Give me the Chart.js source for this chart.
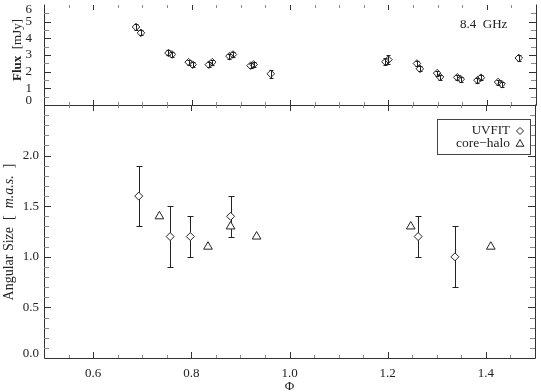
<!DOCTYPE html>
<html lang="en">
  <head>
    <meta charset="UTF-8" />
    <title>Flux e tamanho angular</title>
    <script src="https://cdn.jsdelivr.net/npm/chart.js"></script>
    <style>
      body { margin: 0; background: #fff; }
      .painel { position: relative; width: 541px; height: 392px; }
      .painel canvas { position: absolute; left: 0; top: 0; }
    </style>
  </head>
  <body>
    <div class="painel">
      <canvas id="fluxChart" width="541" height="392"></canvas>
      <canvas id="sizeChart" width="541" height="392"></canvas>
    </div>

<script>
  // painel de cima: fluxo a 8.4 GHz
  const fluxPhi = [0.687, 0.697, 0.753, 0.760, 0.794, 0.802, 0.835, 0.842, 0.877, 0.884, 0.920, 0.926, 0.961,
                   1.194, 1.200, 1.258, 1.264, 1.299, 1.305, 1.340, 1.347, 1.381, 1.388, 1.423, 1.430, 1.465];
  const fluxVal = [4.68, 4.33, 3.12, 3.03, 2.57, 2.42, 2.42, 2.57, 2.93, 3.03, 2.36, 2.43, 1.87,
                   2.59, 2.72, 2.49, 2.17, 1.91, 1.68, 1.66, 1.55, 1.49, 1.64, 1.38, 1.26, 2.82];
  const fluxErr = [0.15, 0.15, 0.15, 0.15, 0.15, 0.15, 0.15, 0.15, 0.15, 0.15, 0.15, 0.15, 0.25,
                   0.2, 0.25, 0.15, 0.15, 0.15, 0.15, 0.15, 0.15, 0.15, 0.15, 0.15, 0.15, 0.2];

  // painel de baixo: tamanho angular
  const uvfitPhi = [0.693, 0.757, 0.798, 0.880, 1.262, 1.337];
  const uvfitSize = [1.6, 1.2, 1.2, 1.4, 1.2, 1.0];
  const uvfitErr = [0.3, 0.3, 0.2, 0.2, 0.2, 0.3];

  const haloPhi = [0.735, 0.834, 0.880, 0.933, 1.247, 1.410];
  const haloSize = [1.4, 1.1, 1.3, 1.2, 1.3, 1.1];

  const phiTicks = [0.6, 0.8, 1.0, 1.2, 1.4];
  const fluxTicks = [0, 1, 2, 3, 4, 5, 6];
  const sizeTicks = [0.0, 0.5, 1.0, 1.5, 2.0];

  const fonte = '"Liberation Serif", "DejaVu Serif", serif';
  const corTexto = '#222';

  function pontos(xs, ys) {
    return xs.map((p, i) => ({ x: p, y: ys[i] }));
  }

  function barrasErro(chart, xs, ys, errs, cap) {
    const ctx = chart.ctx;
    const { x, y } = chart.scales;
    ctx.save();
    ctx.strokeStyle = '#222';
    ctx.lineWidth = 1;
    xs.forEach((p, i) => {
      const px = Math.round(x.getPixelForValue(p)) + 0.5;
      const y1 = Math.round(y.getPixelForValue(ys[i] - errs[i])) + 0.5;
      const y2 = Math.round(y.getPixelForValue(ys[i] + errs[i])) + 0.5;
      ctx.beginPath();
      ctx.moveTo(px, y1);
      ctx.lineTo(px, y2);
      ctx.moveTo(px - cap, y1);
      ctx.lineTo(px + cap, y1);
      ctx.moveTo(px - cap, y2);
      ctx.lineTo(px + cap, y2);
      ctx.stroke();
    });
    ctx.restore();
  }

  // ticks para dentro, como no IDL
  function desenharTicks(ctx, escala, a, passo, passoMaior, lados, comp) {
    const n = Math.round((escala.max - escala.min) / passo);
    for (let i = 1; i < n; i++) {
      const v = escala.min + i * passo;
      const maior = Math.abs(v / passoMaior - Math.round(v / passoMaior)) < 1e-6;
      const len = maior ? comp[0] : comp[1];
      const p = Math.round(escala.getPixelForValue(v)) + 0.5;
      ctx.strokeStyle = maior ? '#333' : '#8a8a8a';
      ctx.beginPath();
      if (escala.isHorizontal()) {
        if (lados.includes('bottom')) { ctx.moveTo(p, a.bottom); ctx.lineTo(p, a.bottom - len); }
        if (lados.includes('top')) { ctx.moveTo(p, a.top); ctx.lineTo(p, a.top + len); }
      } else {
        if (lados.includes('left')) { ctx.moveTo(a.left, p); ctx.lineTo(a.left + len, p); }
        if (lados.includes('right')) { ctx.moveTo(a.right, p); ctx.lineTo(a.right - len, p); }
      }
      ctx.stroke();
    }
  }

  function labelsY(ctx, escala, a, valores, fmt, pad) {
    ctx.fillStyle = corTexto;
    ctx.font = '13px ' + fonte;
    ctx.textAlign = 'right';
    ctx.textBaseline = 'middle';
    valores.forEach((v) => {
      let py = escala.getPixelForValue(v);
      py = Math.min(Math.max(py, a.top + 5), a.bottom - 4);
      ctx.fillText(fmt(v), a.left - pad, py);
    });
  }

  // titulo rotacionado com pedacos de fonte diferente
  function tituloVertical(ctx, cx, cy, partes) {
    ctx.save();
    ctx.translate(cx, cy);
    ctx.rotate(-Math.PI / 2);
    ctx.fillStyle = corTexto;
    ctx.textBaseline = 'middle';
    ctx.textAlign = 'left';
    let total = 0;
    partes.forEach((p) => { ctx.font = p.f; total += ctx.measureText(p.t).width; });
    let x = -total / 2;
    partes.forEach((p) => {
      ctx.font = p.f;
      ctx.fillText(p.t, x, 0);
      x += ctx.measureText(p.t).width;
    });
    ctx.restore();
  }

  function moldura(chart, topo) {
    const ctx = chart.ctx;
    const a = chart.chartArea;
    const L = Math.round(a.left) + 0.5, R = Math.round(a.right) + 0.5;
    const T = Math.round(a.top) + 0.5, B = Math.round(a.bottom) + 0.5;
    ctx.strokeStyle = '#333';
    ctx.lineWidth = 1;
    ctx.beginPath();
    if (topo) { ctx.moveTo(L, T); ctx.lineTo(R, T); }
    ctx.moveTo(R, T - 1);
    ctx.lineTo(R, B);
    ctx.lineTo(L, B);
    ctx.lineTo(L, T - 1);
    ctx.stroke();
  }

  // ---------- grafico de fluxo ----------
  const ctxFlux = document.getElementById('fluxChart').getContext('2d');

  const dataFlux = {
    datasets: [
      {
        label: '8.4 GHz',
        data: pontos(fluxPhi, fluxVal),
        pointStyle: 'rectRot',
        pointRadius: 3.8,
        borderColor: '#222',
        backgroundColor: 'rgba(0,0,0,0)',
        borderWidth: 1,
      },
    ],
  };

  const pluginFlux = {
    id: 'pluginFlux',
    beforeDatasetsDraw(chart) {
      barrasErro(chart, fluxPhi, fluxVal, fluxErr, 2);
    },
    afterDraw(chart) {
      const ctx = chart.ctx;
      const a = chart.chartArea;
      const { x, y } = chart.scales;
      ctx.save();
      moldura(chart, false);
      desenharTicks(ctx, x, a, 0.05, 0.2, ['top', 'bottom'], [5, 3]);
      desenharTicks(ctx, y, a, 0.5, 1, ['left', 'right'], [7, 5]);
      labelsY(ctx, y, a, fluxTicks, (v) => String(v), 12);
      tituloVertical(ctx, 18, 50, [
        { t: 'Flux', f: 'bold 13px ' + fonte },
        { t: '  [mJy]', f: '13px ' + fonte },
      ]);
      ctx.fillStyle = corTexto;
      ctx.font = '13px ' + fonte;
      ctx.textAlign = 'left';
      ctx.textBaseline = 'middle';
      ctx.fillText('8.4  GHz', 460, 25);
      ctx.restore();
    },
  };

  const configFlux = {
    type: 'scatter',
    data: dataFlux,
    options: {
      responsive: false,
      animation: false,
      layout: { padding: { left: 44, right: 2, top: 0, bottom: 287 } },
      scales: {
        x: { type: 'linear', min: 0.5, max: 1.5, display: false },
        y: { type: 'linear', min: 0, max: 6, display: false },
      },
      plugins: {
        legend: { display: false },
        tooltip: { enabled: false },
      },
    },
    plugins: [pluginFlux],
  };

  const fluxChart = new Chart(ctxFlux, configFlux);

  // ---------- grafico de tamanho angular ----------
  const ctxSize = document.getElementById('sizeChart').getContext('2d');

  const dataSize = {
    datasets: [
      {
        label: 'UVFIT',
        data: pontos(uvfitPhi, uvfitSize),
        pointStyle: 'rectRot',
        pointRadius: 4,
        borderColor: '#222',
        backgroundColor: '#fff',
        borderWidth: 1,
      },
      {
        label: 'core−halo',
        data: pontos(haloPhi, haloSize),
        pointStyle: 'triangle',
        pointRadius: 5,
        borderColor: '#222',
        backgroundColor: '#fff',
        borderWidth: 1,
      },
    ],
  };

  const pluginSize = {
    id: 'pluginSize',
    beforeDatasetsDraw(chart) {
      barrasErro(chart, uvfitPhi, uvfitSize, uvfitErr, 3);
    },
    afterDraw(chart) {
      const ctx = chart.ctx;
      const a = chart.chartArea;
      const { x, y } = chart.scales;
      ctx.save();
      moldura(chart, true);
      desenharTicks(ctx, x, a, 0.05, 0.2, ['top', 'bottom'], [6, 3]);
      desenharTicks(ctx, y, a, 0.1, 0.5, ['left', 'right'], [7, 5]);
      labelsY(ctx, y, a, sizeTicks, (v) => v.toFixed(1), 5);

      // labels do eixo x
      ctx.fillStyle = corTexto;
      ctx.font = '13px ' + fonte;
      ctx.textAlign = 'center';
      ctx.textBaseline = 'middle';
      phiTicks.forEach((v) => {
        ctx.fillText(v.toFixed(1), x.getPixelForValue(v), a.bottom + 16);
      });
      ctx.fillText('Φ', (a.left + a.right) / 2, 387);

      tituloVertical(ctx, 9, 232, [
        { t: 'Angular Size  [  ', f: '14px ' + fonte },
        { t: 'm.a.s.', f: 'italic 14px ' + fonte },
        { t: '  ]', f: '14px ' + fonte },
      ]);

      // legenda (texto antes do simbolo)
      ctx.strokeStyle = '#444';
      ctx.strokeRect(437.5, 119.5, 93, 35);
      ctx.fillStyle = corTexto;
      ctx.textAlign = 'right';
      ctx.font = '13px ' + fonte;
      ctx.fillText('UVFIT', 510, 131);
      ctx.font = '13.5px ' + fonte;
      ctx.fillText('core−halo', 510, 143);
      ctx.fillStyle = '#fff';
      ctx.strokeStyle = '#222';
      ctx.lineWidth = 1;
      Chart.helpers.drawPoint(ctx, { pointStyle: 'rectRot', radius: 3.5, borderWidth: 1 }, 520, 131);
      Chart.helpers.drawPoint(ctx, { pointStyle: 'triangle', radius: 4.5, borderWidth: 1 }, 520, 144);
      ctx.restore();
    },
  };

  const configSize = {
    type: 'scatter',
    data: dataSize,
    options: {
      responsive: false,
      animation: false,
      layout: { padding: { left: 44, right: 2, top: 105, bottom: 34 } },
      scales: {
        x: { type: 'linear', min: 0.5, max: 1.5, display: false },
        y: { type: 'linear', min: 0, max: 2.5, display: false },
      },
      plugins: {
        legend: { display: false },
        tooltip: { enabled: false },
      },
    },
    plugins: [pluginSize],
  };

  const sizeChart = new Chart(ctxSize, configSize);
</script>
  </body>
</html>
